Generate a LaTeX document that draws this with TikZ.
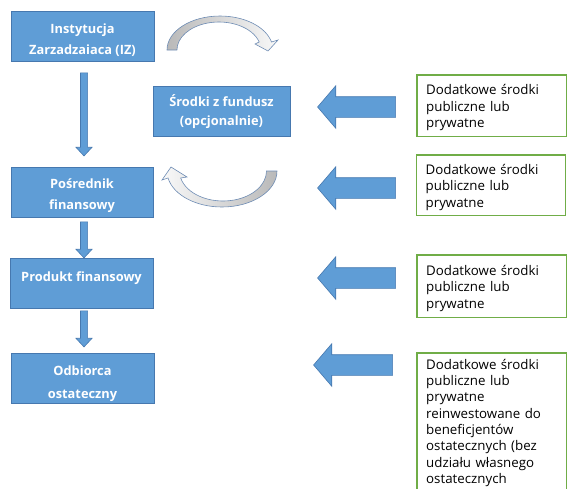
\documentclass[tikz,border=0pt]{standalone}
\usepackage{fontspec}
\setmainfont{Open Sans}
\usetikzlibrary{shapes.arrows}
\definecolor{bfill}{RGB}{95,157,214}
\definecolor{bdraw}{RGB}{70,120,175}
\definecolor{gdraw}{RGB}{112,173,71}
\definecolor{cdraw}{RGB}{110,140,180}
\newcommand\btxt[2]{\raisebox{#1}[\height][\depth]{\begin{tabular}{@{}c@{}}#2\end{tabular}}}
\newcommand\gtxt[2]{\raisebox{#1}[\height][\depth]{\parbox{131pt}{#2}}}
\tikzset{
  x=1pt,y=1pt,
  bbox/.style={draw=bdraw,fill=bfill,line width=0.8pt,minimum height=50,inner sep=0pt,
    text=white,align=center,font=\fontsize{12.8}{21}\selectfont\bfseries},
  gbox/.style={anchor=north west,minimum width=149,
    text width=131,inner xsep=9pt,inner ysep=0pt,align=left,
    font=\fontsize{13.3}{16.3}\selectfont},
  gline/.style={draw=gdraw,line width=1.1pt},
  downarr/.style={single arrow,draw=bdraw,fill=bfill,line width=0.6pt,rotate=-90,
    inner xsep=0pt,inner ysep=3.25pt,single arrow head extend=4.5,single arrow tip angle=86},
  leftarr/.style={single arrow,draw=bdraw,fill=bfill,line width=0.6pt,rotate=180,
    inner xsep=0pt,inner ysep=10pt,minimum height=78,single arrow head extend=11,single arrow tip angle=99},
  curv/.style={draw=cdraw,line width=0.6pt},
}
\begin{document}
\begin{tikzpicture}
\useasboundingbox (0,0) rectangle (567,-488);
% blue boxes
\node[bbox,minimum width=143] (iz) at (82.5,-36) {\btxt{-4pt}{Instytucja\\Zarzadzaiaca (IZ)}};
\node[bbox,minimum width=137,font=\fontsize{12.8}{19}\selectfont\bfseries] (fund) at (221.5,-111) {\btxt{-1.5pt}{Środki z fundusz\\(opcjonalnie)}};
\node[bbox,minimum width=142] (pos) at (82,-192) {\btxt{-3pt}{Pośrednik\\finansowy}};
\node[bbox,minimum width=143,label={[text=white,font=\fontsize{12.8}{21}\selectfont\bfseries,yshift=5pt]center:Produkt finansowy}] (prod) at (81.5,-283) {};
\node[bbox,minimum width=143,font=\fontsize{12.8}{23}\selectfont\bfseries] (odb) at (82.5,-378.5) {\btxt{-3.5pt}{Odbiorca\\ostateczny}};
% down arrows
\node[downarr,minimum height=83] (d1) at (84,-112.5) {};
\node[downarr,minimum height=36] (d2) at (84,-238) {};
\node[downarr,minimum height=36] (d3) at (84,-327) {};
% left arrows
\node[leftarr] (l1) at (361,-107) {};
\node[leftarr] (l2) at (361,-188) {};
\node[leftarr] (l3) at (361,-278) {};
\node[leftarr,minimum height=79] (l4) at (357.5,-365) {};
% green boxes
\node[gbox,minimum height=61] (g1) at (417,-75) {\gtxt{-2pt}{Dodatkowe środki\\publiczne lub\\prywatne}};
\node[gbox,minimum height=60] (g2) at (416.5,-155) {\gtxt{-2pt}{Dodatkowe środki\\publiczne lub\\prywatne}};
\node[gbox,minimum height=62] (g3) at (417,-255) {\gtxt{-2pt}{Dodatkowe środki\\publiczne lub\\prywatne}};
\node[gbox,inner ysep=6pt] (g4) at (417,-353) {Dodatkowe środki\\publiczne lub\\prywatne\\reinwestowane do\\beneficjentów\\ostatecznych (bez\\udziału własnego\\ostatecznych};
\draw[gline] (g1.north west) rectangle (g1.south east);
\draw[gline] (g2.north west) rectangle (g2.south east);
\draw[gline] (g3.north west) rectangle (g3.south east);
\draw[gline] (g4.north west) ++(0,-140) |- (g4.north east) -- ++(0,-140);
% curved arrows
\draw[curv,left color=gray!55,right color=gray!5]
  (167,-50) arc[start angle=180,end angle=13.6,x radius=53,y radius=34]
  -- (278,-40) -- (268,-51) -- (255,-44) -- (259.2,-42)
  arc[start angle=16.6,end angle=180,x radius=42,y radius=28] -- cycle;
\draw[curv,right color=gray!55,left color=gray!5]
  (277,-171) arc[start angle=0,end angle=-168.8,x radius=55,y radius=36]
  -- (162,-180) -- (171,-167) -- (187,-177) -- (180.7,-178)
  arc[start angle=-166.5,end angle=0,x radius=43.5,y radius=30] -- cycle;
\end{tikzpicture}
\end{document}
